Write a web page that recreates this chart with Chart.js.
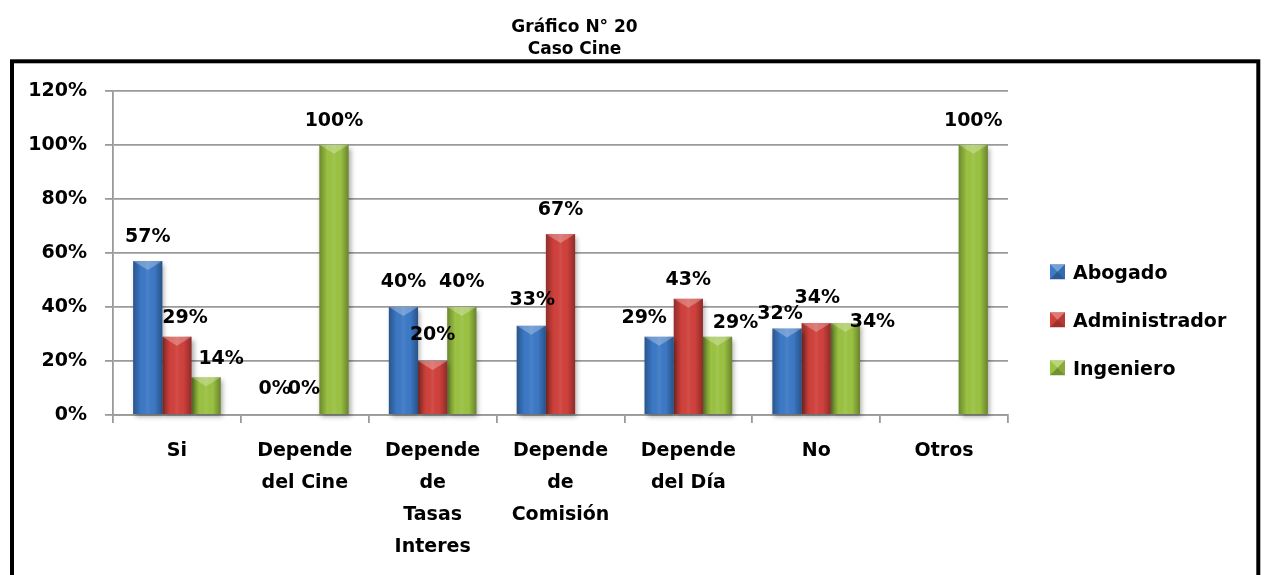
<!DOCTYPE html>
<html>
<head>
<meta charset="utf-8">
<title>Gráfico N° 20 - Caso Cine</title>
<script src="https://cdn.jsdelivr.net/npm/chart.js@4.4.0/dist/chart.umd.min.js"></script>
<style>
  html, body { margin: 0; padding: 0; background: #fff; }
  #wrap { width: 1264px; height: 575px; overflow: hidden; }
</style>
</head>
<body>
<div id="wrap"><canvas id="chart" width="1264" height="575"></canvas></div>
<script>
// data
const categories = [
  'Si',
  ['Depende', 'del Cine'],
  ['Depende', 'de', 'Tasas', 'Interes'],
  ['Depende', 'de', 'Comisión'],
  ['Depende', 'del Día'],
  'No',
  'Otros'
];
const seriesNames = ['Abogado', 'Administrador', 'Ingeniero'];
const abogado       = [57, 0, 40, 33, 29, 32, null];
const administrador = [29, 0, 20, 67, 43, 34, null];
const ingeniero     = [14, 100, 40, null, 29, 34, 100];
const yTicks = [0, 20, 40, 60, 80, 100, 120];
const titleLines = ['Gráfico N° 20', 'Caso Cine'];

const FONT = '"DejaVu Sans", Verdana, sans-serif';
const colors = ['#3c79c6', '#d0413c', '#9bc242'];

// where each value label sits against the top of its bar (dx, dy of the label centre)
const labelNudge = [
  [[0, -26], [-1, -28], [0, -27], [1, -28], [-15, -21], [-7, -16], null],
  [[8, -21], [-1, -28], [0, -27.5], [0, -26], [0, -21], [1, -27], null],
  [[15, -20], [0, -26], [0, -27], null, [18, -15.5], [27, -3], [0, -26]]
];

const pageLook = {
  id: 'pageLook',
  beforeDraw(chart) {
    const c = chart.ctx;
    c.save();
    c.fillStyle = '#fff';
    c.fillRect(0, 0, chart.width, chart.height);
    c.fillStyle = '#000';
    c.font = 'bold 17px ' + FONT;
    c.textAlign = 'center';
    c.textBaseline = 'alphabetic';
    c.fillText(titleLines[0], 574.5, 31.7);
    c.fillText(titleLines[1], 574.5, 54.4);
    c.restore();
  },
  afterDraw(chart) {
    const c = chart.ctx;
    c.save();
    // outer frame
    c.strokeStyle = '#000';
    c.lineWidth = 4;
    c.strokeRect(12, 61.3, 1246.3, 560);
    // legend
    c.font = 'bold 19px ' + FONT;
    c.textAlign = 'left';
    c.textBaseline = 'alphabetic';
    seriesNames.forEach((name, i) => {
      const cy = 271.7 + i * 48;
      const bx = 1050, by = cy - 7.5, s = 15;
      c.fillStyle = colors[i];
      c.fillRect(bx, by, s, s);
      c.beginPath(); c.moveTo(bx, by); c.lineTo(bx + s, by); c.lineTo(bx + s / 2, by + s / 2); c.closePath();
      c.fillStyle = 'rgba(255,255,255,0.3)'; c.fill();
      c.beginPath(); c.moveTo(bx, by + s); c.lineTo(bx + s, by + s); c.lineTo(bx + s / 2, by + s / 2); c.closePath();
      c.fillStyle = 'rgba(0,0,0,0.25)'; c.fill();
      c.beginPath(); c.moveTo(bx + s, by); c.lineTo(bx + s, by + s); c.lineTo(bx + s / 2, by + s / 2); c.closePath();
      c.fillStyle = 'rgba(0,0,0,0.12)'; c.fill();
      c.fillStyle = '#000';
      c.fillText(name, 1073, cy + 6.9);
    });
    c.restore();
  }
};

const barLook = {
  id: 'barLook',
  beforeDatasetsDraw(chart) {
    const c = chart.ctx;
    c.save();
    c.shadowColor = 'rgba(0,0,0,0.35)';
    c.shadowBlur = 5;
    c.shadowOffsetX = 2;
    c.shadowOffsetY = 3;
  },
  afterDatasetsDraw(chart) {
    const c = chart.ctx;
    c.restore();
    c.save();
    chart.data.datasets.forEach((ds, di) => {
      const meta = chart.getDatasetMeta(di);
      meta.data.forEach((bar, i) => {
        const v = ds.data[i];
        if (v === null || v === undefined) return;
        const { x, y, base, width } = bar.getProps(['x', 'y', 'base', 'width'], true);
        const left = x - width / 2, right = x + width / 2;
        const h = base - y;
        if (h > 1) {
          // rounded shading across the bar
          const g = c.createLinearGradient(left, 0, right, 0);
          g.addColorStop(0, 'rgba(0,0,0,0.3)');
          g.addColorStop(0.28, 'rgba(0,0,0,0)');
          g.addColorStop(0.5, 'rgba(255,255,255,0.07)');
          g.addColorStop(0.72, 'rgba(0,0,0,0)');
          g.addColorStop(1, 'rgba(0,0,0,0.32)');
          c.fillStyle = g;
          c.fillRect(left, y, width, h);
          // bevel on top
          const d = Math.min(9, h);
          c.beginPath();
          c.moveTo(left, y); c.lineTo(right, y); c.lineTo(x, y + d); c.closePath();
          c.fillStyle = 'rgba(255,255,255,0.28)';
          c.fill();
        }
        const nudge = labelNudge[di][i];
        if (!nudge) return;
        c.font = 'bold 19px ' + FONT;
        c.fillStyle = '#000';
        c.textAlign = 'center';
        c.textBaseline = 'alphabetic';
        c.fillText(Math.round(v) + '%', x + nudge[0], y + nudge[1] + 6.9);
      });
    });
    c.restore();
  }
};

const datasets = [abogado, administrador, ingeniero].map((values, i) => ({
  label: seriesNames[i],
  data: values,
  backgroundColor: colors[i],
  borderWidth: 0,
  categoryPercentage: 0.685,
  barPercentage: 1,
  clip: false
}));

new Chart(document.getElementById('chart'), {
  type: 'bar',
  data: { labels: categories, datasets },
  options: {
    responsive: false,
    animation: false,
    layout: { padding: { top: 90.7, right: 256, bottom: 0, left: 0 } },
    plugins: {
      legend: { display: false },
      title: { display: false },
      tooltip: { enabled: false }
    },
    scales: {
      x: {
        grid: { offset: true, drawOnChartArea: false, drawTicks: true, tickLength: 8, color: '#9a9a9a', lineWidth: 1.8 },
        border: { display: true, color: '#9a9a9a', width: 1.8 },
        ticks: {
          color: '#000',
          padding: 12.5,
          maxRotation: 0,
          autoSkip: false,
          font: { family: FONT, size: 19, weight: 'bold', lineHeight: 1.68 }
        },
        afterFit(scale) { scale.height = 160; }
      },
      y: {
        min: yTicks[0],
        max: yTicks[yTicks.length - 1],
        grid: { color: '#9a9a9a', lineWidth: 1.8, tickLength: 8 },
        border: { display: true, color: '#9a9a9a', width: 1.8 },
        ticks: {
          stepSize: yTicks[1] - yTicks[0],
          color: '#000',
          padding: 18,
          font: { family: FONT, size: 19, weight: 'bold' },
          callback: v => v + '%'
        },
        afterFit(scale) { scale.width = 113; }
      }
    }
  },
  plugins: [pageLook, barLook]
});
</script>
</body>
</html>
